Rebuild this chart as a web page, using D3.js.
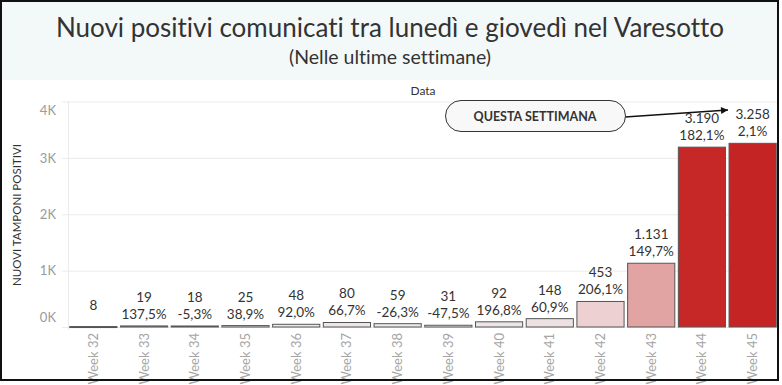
<!DOCTYPE html>
<html><head><meta charset="utf-8">
<script src="https://cdn.jsdelivr.net/npm/d3@7"></script>
<style>body{margin:0;background:#fff}svg{display:block}text{font-variant-ligatures:none;font-feature-settings:"liga" 0}</style>
</head><body>
<svg id="c" width="782" height="385"></svg>
<script>
const weeks = ["Week 32","Week 33","Week 34","Week 35","Week 36","Week 37","Week 38","Week 39","Week 40","Week 41","Week 42","Week 43","Week 44","Week 45"];
const values = [8,19,18,25,48,80,59,31,92,148,453,1131,3190,3258];
const pctChange = [null,137.5,-5.3,38.9,92.0,66.7,-26.3,-47.5,196.8,60.9,206.1,149.7,182.1,2.1];
const yTicks = [0,1000,2000,3000,4000];
const colorStops = [0, 100, 450, 1130, 3190];
const colorRange = ["#efefef","#ede4e6","#edd0d1","#e2a3a3","#c62828"];

const FONT = "Lato, 'Open Sans', sans-serif";
const svg = d3.select("#c");
const it = d3.formatLocale({decimal:",", thousands:".", grouping:[3], currency:["€",""], minus:"-"});
const fInt = it.format(",d");
const fPct = it.format(".1f");

// title band
svg.append("rect").attr("x",1).attr("y",1).attr("width",777).attr("height",79).attr("fill","#f3f9f9");
svg.append("text").attr("x",390).attr("y",37).attr("text-anchor","middle")
  .attr("font-family",FONT).attr("font-size",26).attr("fill","#333")
  .text("Nuovi positivi comunicati tra lunedì e giovedì nel Varesotto");
svg.append("text").attr("x",390).attr("y",64).attr("text-anchor","middle")
  .attr("font-family",FONT).attr("font-size",19.5).attr("fill","#333")
  .text("(Nelle ultime settimane)");

const x = d3.scaleBand().domain(weeks).range([68,778]).paddingInner(0.05).paddingOuter(0.025);
const y = d3.scaleLinear().domain([0,4000]).range([327,101.5]);
const color = d3.scaleLinear().domain(colorStops).range(colorRange);

// gridlines
svg.append("g").selectAll("line").data(yTicks).join("line")
  .attr("x1",62).attr("x2",778).attr("y1",d=>y(d)+0.5).attr("y2",d=>y(d)+0.5)
  .attr("stroke","#ebebeb");
svg.append("line").attr("x1",68.5).attr("x2",68.5).attr("y1",101).attr("y2",330).attr("stroke","#ebebeb");

// y axis
const yAxis = d3.axisLeft(y).tickValues(yTicks).tickSize(0).tickPadding(6)
  .tickFormat(d=>(d/1000)+"K");
const ya = svg.append("g").attr("transform","translate(62,0)").call(yAxis);
ya.select(".domain").remove();
ya.selectAll("text").attr("font-family",FONT).attr("font-size",13).attr("fill","#9a9a9a")
  .attr("dy",d=> d===4000 ? "1.0em" : d===0 ? "-0.4em" : "0.32em");

svg.append("text").attr("transform","translate(21,215) rotate(-90)").attr("text-anchor","middle")
  .attr("font-family",FONT).attr("font-size",11.5).attr("fill","#333").text("NUOVI TAMPONI POSITIVI");
svg.append("text").attr("x",423).attr("y",95).attr("text-anchor","middle")
  .attr("font-family",FONT).attr("font-size",12).attr("fill","#333").text("Data");

// bars
const data = weeks.map((w,i)=>({w, v:values[i], p:pctChange[i]}));
svg.append("g").selectAll("rect").data(data).join("rect")
  .attr("x",d=>x(d.w)+0.5).attr("width",x.bandwidth()-1)
  .attr("y",d=>y(d.v)).attr("height",d=>Math.max(1,y(0)-y(d.v)))
  .attr("fill",d=>color(d.v)).attr("stroke","#555").attr("stroke-width",1);

// labels
const lab = svg.append("g").attr("font-family",FONT).attr("font-size",13.5).attr("fill","#333").attr("text-anchor","middle");
data.forEach(d=>{
  const cx = x(d.w)+x.bandwidth()/2;
  const top = y(d.v);
  if(d.p===null){
    lab.append("text").attr("x",cx).attr("y",top-17).text(fInt(d.v));
  } else {
    lab.append("text").attr("x",cx).attr("y",top-24).text(fInt(d.v));
    lab.append("text").attr("x",cx).attr("y",top-7).text(fPct(d.p)+"%");
  }
});

// x axis
const xAxis = d3.axisBottom(x).tickSize(0).tickPadding(0);
const xa = svg.append("g").attr("transform","translate(0,333)").call(xAxis);
xa.select(".domain").remove();
xa.selectAll("text").attr("font-family",FONT).attr("font-size",13).attr("fill","#a5a5a5")
  .attr("transform","rotate(-90)").attr("text-anchor","end").attr("x",0).attr("y",0).attr("dy","0.35em");

// annotation
svg.append("defs").append("marker").attr("id","ah").attr("viewBox","0 0 10 10").attr("refX",10).attr("refY",5)
  .attr("markerWidth",9).attr("markerHeight",7).attr("orient","auto").attr("markerUnits","userSpaceOnUse")
  .append("path").attr("d","M0,0L10,5L0,10Z").attr("fill","#111");
svg.append("line").attr("x1",625).attr("y1",117).attr("x2",728).attr("y2",110)
  .attr("stroke","#111").attr("stroke-width",1.3).attr("marker-end","url(#ah)");
svg.append("rect").attr("x",445.5).attr("y",100.5).attr("width",180).attr("height",31).attr("rx",15.5)
  .attr("fill","#f8f8f8").attr("stroke","#333").attr("stroke-width",1);
svg.append("text").attr("x",535).attr("y",121).attr("text-anchor","middle")
  .attr("font-family",FONT).attr("font-size",12.5).attr("font-weight","bold").attr("fill","#333").text("QUESTA SETTIMANA");

// border
svg.append("rect").attr("x",1).attr("y",1).attr("width",777).attr("height",379).attr("fill","none").attr("stroke","#111").attr("stroke-width",2);
</script>
</body></html>
